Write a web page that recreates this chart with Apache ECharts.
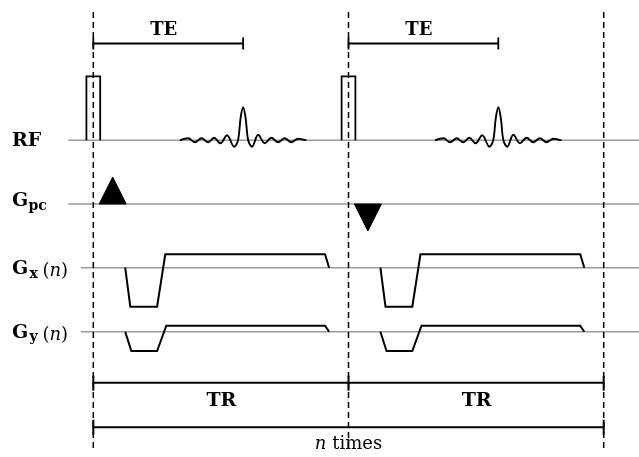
<!DOCTYPE html>
<html><head><meta charset="utf-8">
<script src="https://cdn.jsdelivr.net/npm/echarts@6/dist/echarts.min.js"></script>
<style>html,body{margin:0;padding:0;background:#fff}#c{width:639px;height:457px}</style>
</head><body><div id="c"></div>
<script>
// ---------------- data (time units: TR = 100; amplitudes in arbitrary units) ----------------
const TR = 100;
const TE = 58.7;
const repStarts = [0, 100];              // start of each repetition drawn
const trBoundaries = [0, 100, 200];      // dashed boundaries
const rfPulseT = [-2.7, 2.7];            // RF hard pulse edges (relative to rep start)
const rfPulseAmp = 64;
const echoT = [-24.8, -21.5, -18.9, -16.3, -13.7, -11.4, -8.9, -6.3, -3.5, -2.0, -1.0, 0, 1.0, 2.0, 3.5, 5.9, 8.5, 11.1, 13.7, 16.3, 18.9, 21.5, 24.8];
const echoAmp = [0, 2, -2, 2, -2, 2.5, -3, 5, -6.5, 0, 22, 33, 22, 0, -6.5, 5.5, -3, 2.5, -2, 2, -2, 1.5, 0];
const gpcT = [2.3, 7.6, 12.9];           // phase-encoding triangle: start, apex, end
const gpcAmp = [27, -27];                // one per repetition
const gxT = [12.5, 14.5, 25.0, 28.2, 90.8, 92.4];
const gxAmp = [0, -39, -39, 13.4, 13.4, 0];
const gyT = [12.5, 14.9, 25.0, 28.6, 90.8, 92.4];
const gyAmp = [0, -19.3, -19.3, 6, 6, 0];
const teText = 'TE';
const trText = 'TR';
const timesText = 'times';

// ---------------- layout ----------------
const X_MIN = -36.56, X_MAX = 213.83, Y_MAX = 457;
const rowY = { RF: 140.3, Gpc: 204, Gx: 267.7, Gy: 331.7 };
const rowStart = { RF: -9.8, Gpc: -9.8, Gx: -4.8, Gy: -4.8 };
const teY = 43.5, trY = 382.7, nY = 427.3;
const dashTop = 12, dashBottom = 452;
const tickHalf = 6, tickHalfN = 7.5;

const chart = echarts.init(document.getElementById('c'), null, { renderer: 'canvas' });

const black = '#000';
const lineStyleBlack = (w) => ({ color: black, width: w, opacity: 1, curveness: 0, cap: 'butt', join: 'miter' });

const baseData = Object.keys(rowY).map(k => ({ coords: [[rowStart[k], rowY[k]], [X_MAX, rowY[k]]] }));
const dashData = trBoundaries.map(t => ({ coords: [[t, dashTop], [t, dashBottom]] }));
const rfData = repStarts.map(s => ({ coords: [
  [s + rfPulseT[0], rowY.RF], [s + rfPulseT[0], rowY.RF - rfPulseAmp],
  [s + rfPulseT[1], rowY.RF - rfPulseAmp], [s + rfPulseT[1], rowY.RF]] }));
const gradData = [];
repStarts.forEach(s => {
  gradData.push({ coords: gxT.map((t, i) => [s + t, rowY.Gx - gxAmp[i]]) });
  gradData.push({ coords: gyT.map((t, i) => [s + t, rowY.Gy - gyAmp[i]]) });
});
const barData = [];
repStarts.forEach(s => {
  barData.push({ coords: [[s, teY], [s + TE, teY]] });
  barData.push({ coords: [[s, teY - tickHalf], [s, teY + tickHalf]] });
  barData.push({ coords: [[s + TE, teY - tickHalf], [s + TE, teY + tickHalf]] });
});
const trBarData = [];
trBarData.push({ coords: [[trBoundaries[0], trY], [trBoundaries[trBoundaries.length - 1], trY]] });
trBoundaries.forEach(t => trBarData.push({ coords: [[t, trY - 7], [t, trY + 8]] }));
trBarData.push({ coords: [[trBoundaries[0], nY], [trBoundaries[trBoundaries.length - 1], nY]] });
[trBoundaries[0], trBoundaries[trBoundaries.length - 1]].forEach(t => trBarData.push({ coords: [[t, nY - tickHalfN], [t, nY + tickHalfN]] }));

const echoSeries = repStarts.map(s => ({
  type: 'line', smooth: 0.35, showSymbol: false, silent: true, z: 5,
  lineStyle: { color: black, width: 1.9 },
  data: echoT.map((d, i) => [s + TE + d, rowY.RF - echoAmp[i]])
}));

const option = {
  animation: false,
  backgroundColor: '#fff',
  grid: { left: 0, right: 0, top: 0, bottom: 0, containLabel: false },
  xAxis: { type: 'value', min: X_MIN, max: X_MAX, show: false },
  yAxis: { type: 'value', min: 0, max: Y_MAX, inverse: true, show: false },
  series: [
    { type: 'lines', coordinateSystem: 'cartesian2d', polyline: true, silent: true, z: 1,
      lineStyle: { color: '#9a9a9a', width: 1.6, opacity: 1 }, data: baseData },
    { type: 'lines', coordinateSystem: 'cartesian2d', polyline: true, silent: true, z: 2,
      lineStyle: { color: black, width: 1.5, opacity: 1, type: [6, 4] }, data: dashData },
    { type: 'lines', coordinateSystem: 'cartesian2d', polyline: true, silent: true, z: 4,
      lineStyle: lineStyleBlack(1.8), data: rfData },
    { type: 'lines', coordinateSystem: 'cartesian2d', polyline: true, silent: true, z: 4,
      lineStyle: lineStyleBlack(2), data: gradData },
    { type: 'lines', coordinateSystem: 'cartesian2d', polyline: true, silent: true, z: 4,
      lineStyle: lineStyleBlack(1.8), data: barData },
    { type: 'lines', coordinateSystem: 'cartesian2d', polyline: true, silent: true, z: 4,
      lineStyle: lineStyleBlack(2), data: trBarData },
    ...echoSeries,
    { type: 'custom', coordinateSystem: 'cartesian2d', silent: true, z: 4,
      data: repStarts.map((s, i) => [s, gpcAmp[i]]),
      renderItem: (params, api) => {
        const s = api.value(0), a = api.value(1);
        const pts = [
          api.coord([s + gpcT[0], rowY.Gpc]),
          api.coord([s + gpcT[1], rowY.Gpc - a]),
          api.coord([s + gpcT[2], rowY.Gpc])
        ];
        return { type: 'polygon', shape: { points: pts }, style: { fill: black, stroke: black, lineWidth: 1 } };
      } }
  ]
};
chart.setOption(option);

// ---------------- text labels ----------------
const toPx = (t, y) => chart.convertToPixel({ xAxisIndex: 0, yAxisIndex: 0 }, [t, y]);
const serif = '"DejaVu Serif", serif';
const g = [];
const txt = (text, x, y, font, extra) => g.push(Object.assign({ type: 'text', silent: true, z: 10,
  style: Object.assign({ text, x, y, font, fill: black, align: 'left', verticalAlign: 'top' }, extra || {}) }));
const richN = { i: { font: 'italic 18px ' + serif, fill: black } };

// left channel labels (y = top of text box)
txt('RF', 12, 131.5, 'bold 19px ' + serif);
txt('G', 12, 192, 'bold 19px ' + serif);
txt('pc', 28.5, 199.5, 'bold 14px ' + serif);
txt('G', 12, 260, 'bold 19px ' + serif);
txt('x', 29.5, 267.3, 'bold 14px ' + serif);
txt('', 42.5, 262.5, '18px ' + serif, { text: '({i|n})', rich: richN });
txt('G', 12, 323.8, 'bold 19px ' + serif);
txt('y', 29.5, 330.8, 'bold 14px ' + serif);
txt('', 42.5, 326.5, '18px ' + serif, { text: '({i|n})', rich: richN });

// TE labels
repStarts.forEach(s => {
  const p = toPx(s + TE * 0.47, 0);
  txt(teText, p[0], 21, 'bold 18px ' + serif, { align: 'center' });
});
// TR labels
for (let i = 0; i < trBoundaries.length - 1; i++) {
  const p = toPx((trBoundaries[i] + trBoundaries[i + 1]) / 2, 0);
  txt(trText, p[0] + 0.5, 392, 'bold 19px ' + serif, { align: 'center' });
}
// n times
{
  const p = toPx((trBoundaries[0] + trBoundaries[trBoundaries.length - 1]) / 2, 0);
  txt('', p[0], 435.5, '18px ' + serif, { align: 'center', text: '{i|n} ' + timesText, rich: richN });
}
chart.setOption({ graphic: { elements: g } });
</script>
</body></html>
